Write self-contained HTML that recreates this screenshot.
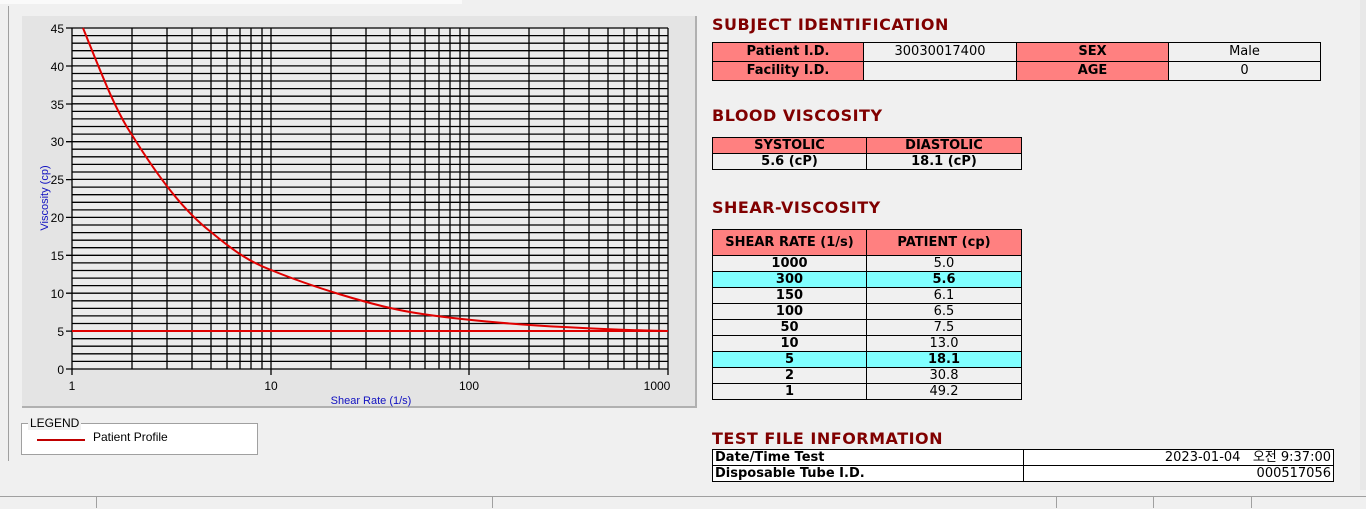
<!DOCTYPE html>
<html><head><meta charset="utf-8"><style>
body{margin:0;width:1366px;height:508px;background:#f0f0f0;position:relative;overflow:hidden;font-family:"Liberation Sans","Noto Sans CJK KR",sans-serif}
.a{position:absolute}
.t{position:absolute;font:bold 16px "DejaVu Sans","Liberation Sans",sans-serif;color:#800000;letter-spacing:0.5px}
table{position:absolute;border-collapse:collapse;font:bold 13px "DejaVu Sans","Liberation Sans",sans-serif;color:#000}
td{border:1px solid #000;padding:0;text-align:center;height:18px;line-height:14px}
.h{background:#ff8080}
.c{background:#80ffff}
.n{font-weight:normal}
.r td{height:15px}
</style></head><body>
<div class="a" style="left:0;top:0;width:462px;height:4px;background:#fafafa"></div>
<div class="a" style="left:8px;top:6px;width:1px;height:455px;background:#a0a0a0"></div>
<div class="a" style="left:22px;top:16px;width:675px;height:392px;background:#e4e4e4;border-right:2px solid #b0b0b0;border-bottom:2px solid #b0b0b0;box-sizing:border-box"></div>
<svg class="a" style="left:0;top:0" width="700" height="420" font-family="Liberation Sans, sans-serif" font-size="12">
<rect x="72" y="28" width="596" height="341" fill="#ececec"/>
<g stroke="#000" stroke-width="1.3">
<path d="M72 28H668M72 35.6H668M72 43.2H668M72 50.7H668M72 58.3H668M72 65.9H668M72 73.5H668M72 81H668M72 88.6H668M72 96.2H668M72 103.8H668M72 111.4H668M72 118.9H668M72 126.5H668M72 134.1H668M72 141.7H668M72 149.2H668M72 156.8H668M72 164.4H668M72 172H668M72 179.4H668M72 187.1H668M72 194.7H668M72 202.3H668M72 209.9H668M72 217.4H668M72 225H668M72 232.6H668M72 240.2H668M72 247.7H668M72 255.3H668M72 262.9H668M72 270.5H668M72 278.1H668M72 285.6H668M72 293.2H668M72 300.8H668M72 308.4H668M72 315.9H668M72 323.5H668M72 331.1H668M72 338.7H668M72 346.2H668M72 353.8H668M72 361.4H668M72 369H668"/>
<path d="M72 28V369M132 28V369M167 28V369M192 28V369M211 28V369M227 28V369M240 28V369M251 28V369M262 28V369M271 28V369M331 28V369M366 28V369M390 28V369M410 28V369M425 28V369M439 28V369M450 28V369M460 28V369M469 28V369M529 28V369M564 28V369M589 28V369M608 28V369M624 28V369M637 28V369M649 28V369M659 28V369M668 28V369"/>
<path d="M66 28H72M66 66H72M66 104H72M66 141.7H72M66 179.6H72M66 217.4H72M66 255.3H72M66 293.2H72M66 331.1H72M66 369H72M72 369V375M271 369V375M469 369V375M668 369V375"/>
</g>
<g text-anchor="end" fill="#000">
<text x="64" y="33">45</text><text x="64" y="71">40</text><text x="64" y="109">35</text><text x="64" y="146">30</text><text x="64" y="184">25</text><text x="64" y="222">20</text><text x="64" y="260">15</text><text x="64" y="298">10</text><text x="64" y="336">5</text><text x="64" y="374">0</text>
</g>
<g text-anchor="middle" fill="#000">
<text x="72" y="390">1</text><text x="271" y="390">10</text><text x="469" y="390">100</text><text x="657" y="390">1000</text>
</g>
<text x="371" y="404" text-anchor="middle" fill="#1010c0" font-size="11">Shear Rate (1/s)</text>
<text transform="translate(48 198) rotate(-90)" text-anchor="middle" fill="#1010c0" font-size="11">Viscosity (cp)</text>
<polyline fill="none" stroke="#e00000" stroke-width="2" points="72,331 668,331"/>
<path fill="none" stroke="#e00000" stroke-width="2" d="M83,28 C100,70 115,110 132,135 C160,180 185,212 211,232 C235,252 250,262 271,270 C310,286 370,305 410,312 C450,319 520,325 564,327 C600,329 640,330.5 668,331"/>
</svg>
<div class="a" style="left:21px;top:423px;width:235px;height:30px;border:1px solid #a0a0a0;background:#fff"></div>
<div class="a" style="left:28px;top:416px;background:#f0f0f0;font-size:12px;padding:0 2px">LEGEND</div>
<div class="a" style="left:37px;top:439px;width:48px;height:2px;background:#c00000"></div>
<div class="a" style="left:93px;top:430px;font-size:12px">Patient Profile</div>

<div class="t" style="left:712px;top:15px">SUBJECT IDENTIFICATION</div>
<table style="left:712px;top:42px;width:609px">
<tr><td class="h" style="width:150px">Patient I.D.</td><td class="n" style="width:152px">30030017400</td><td class="h" style="width:151px">SEX</td><td class="n">Male</td></tr>
<tr><td class="h">Facility I.D.</td><td></td><td class="h">AGE</td><td class="n">0</td></tr>
</table>
<div class="t" style="left:712px;top:106px">BLOOD VISCOSITY</div>
<table class="r" style="left:712px;top:137px;width:310px">
<tr><td class="h" style="width:153px">SYSTOLIC</td><td class="h">DIASTOLIC</td></tr>
<tr><td>5.6 (cP)</td><td>18.1 (cP)</td></tr>
</table>
<div class="t" style="left:712px;top:198px">SHEAR-VISCOSITY</div>
<table class="r" style="left:712px;top:229px;width:310px">
<tr><td class="h" style="width:153px;height:25px">SHEAR RATE (1/s)</td><td class="h" style="height:25px">PATIENT (cp)</td></tr>
<tr><td>1000</td><td class="n">5.0</td></tr>
<tr class="c"><td>300</td><td>5.6</td></tr>
<tr><td>150</td><td class="n">6.1</td></tr>
<tr><td>100</td><td class="n">6.5</td></tr>
<tr><td>50</td><td class="n">7.5</td></tr>
<tr><td>10</td><td class="n">13.0</td></tr>
<tr class="c"><td>5</td><td>18.1</td></tr>
<tr><td>2</td><td class="n">30.8</td></tr>
<tr><td>1</td><td class="n">49.2</td></tr>
</table>
<div class="t" style="left:712px;top:429px">TEST FILE INFORMATION</div>
<table class="r" style="left:712px;top:449px;width:622px;background:#fff">
<tr><td style="text-align:left;width:308px;padding-left:2px">Date/Time Test</td><td class="n" style="text-align:right;padding-right:2px">2023-01-04&nbsp;&nbsp;&nbsp;오전 9:37:00</td></tr>
<tr><td style="text-align:left;padding-left:2px">Disposable Tube I.D.</td><td class="n" style="text-align:right;padding-right:2px">000517056</td></tr>
</table>
<div class="a" style="left:1360px;top:0;width:6px;height:490px;background:#e8e8e8"></div>
<div class="a" style="left:0;top:496px;width:1366px;height:12px;background:#f0f0f0;border-top:1px solid #a0a0a0"></div>
<div class="a" style="left:96px;top:497px;width:1px;height:11px;background:#a0a0a0"></div>
<div class="a" style="left:492px;top:497px;width:1px;height:11px;background:#a0a0a0"></div>
<div class="a" style="left:1056px;top:497px;width:1px;height:11px;background:#a0a0a0"></div>
<div class="a" style="left:1153px;top:497px;width:1px;height:11px;background:#a0a0a0"></div>
<div class="a" style="left:1251px;top:497px;width:1px;height:11px;background:#a0a0a0"></div>
</body></html>
